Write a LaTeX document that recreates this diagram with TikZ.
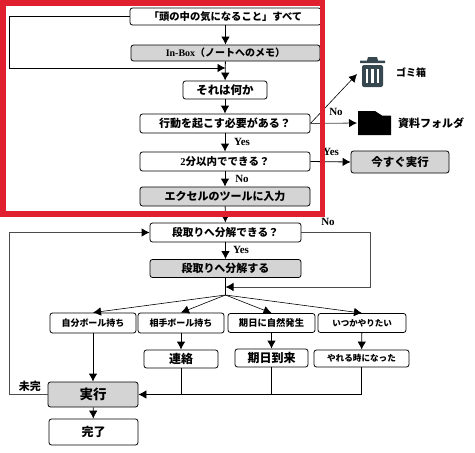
\documentclass[tikz,border=0pt]{standalone}
\usepackage{fontspec}
\setmainfont{Liberation Serif}
\newfontfamily\jp{Noto Sans CJK JP}
\usetikzlibrary{arrows.meta}
\definecolor{framered}{RGB}{224,32,46}
\definecolor{trashgray}{RGB}{55,71,79}
\tikzset{
    box/.style={draw, rounded corners=2.5pt, inner sep=0pt, thick, align=center},
    graybox/.style={box, fill=black!17},
    fs/.style={font=\jp\bfseries\fontsize{#1}{#1}\selectfont},
    flow/.style={thick, -{Latex[length=8pt,width=8.5pt,color=black]}},
    plain/.style={thick},
    tag/.style={font=\bfseries\fontsize{11}{12}\selectfont, inner sep=0pt}
}
\begin{document}
\begin{tikzpicture}[x=1pt,y=-1pt]
    \useasboundingbox (0,0) rectangle (475,453);
    % upper part
    \node[box,fs=10.3,minimum width=191pt,minimum height=17pt] (head) at (225.5,16.5) {「頭の中の気になること」すべて};
    \node[graybox,fs=10,minimum width=189pt,minimum height=16pt] (inbox) at (225.5,53) {{\rmfamily In-Box}（ノートへのメモ）};
    \node[box,fs=11.5,minimum width=84pt,minimum height=18pt] (what) at (225,90) {それは何か};
    \node[box,fs=11,minimum width=170pt,minimum height=19pt] (action) at (225,123.5) {行動を起こす必要がある？};
    \node[box,fs=10.5,minimum width=170pt,minimum height=19pt] (twomin) at (225,161.5) {{\rmfamily 2}分以内でできる？};
    \node[graybox,fs=11,minimum width=170pt,minimum height=19pt] (excel) at (225,196.5) {エクセルのツールに入力};
    % right side
    \node[graybox,fs=11.5,minimum width=98pt,minimum height=22pt] (now) at (400,162) {今すぐ実行};
    \node[fs=10,inner sep=0pt] (trashlabel) at (411,73) {ゴミ箱};
    \node[fs=11,inner sep=0pt] (folderlabel) at (431,123) {資料フォルダ};
    \coordinate (trash) at (357,74);
    \coordinate (folder) at (357,123);
    % trash can
    \fill[trashgray] (367,60.5) -- (368,57) -- (377,57) -- (378,60.5) -- (385,60.5) -- (385,63) -- (360,63) -- (360,60.5) -- cycle;
    \fill[trashgray, rounded corners=2pt] (362,65) -- (383,65) -- (383,87) -- (362,87) -- cycle;
    \foreach \slotx in {367,372.5,378}
        \fill[white] (\slotx-1.2,69) rectangle (\slotx+1.2,83);
    % folder
    \fill[black] (358,111) -- (375,111) -- (382,115.5) -- (391,115.5) -- (391,135) -- (358,135) -- cycle;
    % lower part
    \node[box,fs=10.7,minimum width=151pt,minimum height=19pt] (split) at (225.5,232.5) {段取りへ分解できる？};
    \node[graybox,fs=11,minimum width=151pt,minimum height=18pt] (splitdo) at (225.5,268.5) {段取りへ分解する};
    \coordinate (fork) at (225.5,295);
    \node[box,fs=9,minimum width=86pt,minimum height=20pt] (own) at (93,323) {自分ボール持ち};
    \node[box,fs=9,minimum width=86pt,minimum height=20pt] (other) at (181,323) {相手ボール持ち};
    \node[box,fs=9.3,minimum width=87pt,minimum height=19pt] (natural) at (271.5,323) {期日に自然発生};
    \node[box,fs=8.5,minimum width=88pt,minimum height=19pt] (someday) at (362,323) {いつかやりたい};
    \node[box,fs=12,minimum width=74pt,minimum height=18pt] (contact) at (181,359) {連絡};
    \node[box,fs=12,minimum width=73pt,minimum height=18pt] (due) at (271.5,358) {期日到来};
    \node[box,fs=8.6,minimum width=95pt,minimum height=17pt] (ready) at (361.5,358.5) {やれる時になった};
    \node[graybox,fs=13.5,minimum width=90pt,minimum height=25pt] (run) at (93,394.5) {実行};
    \node[box,fs=12,minimum width=89pt,minimum height=26pt] (done) at (93.5,432) {完了};
    % helper points
    \coordinate (loopa) at (9.5,16.5);
    \coordinate (loopb) at (9.5,68);
    \coordinate (loopc) at (225.5,68);
    \coordinate (noa) at (370,232.5);
    \coordinate (nob) at (370,287);
    \coordinate (noc) at (225.5,287);
    \coordinate (backa) at (9.5,394.5);
    \coordinate (backb) at (9.5,232.5);
    \coordinate (bus) at (181,394.5);
    \coordinate (busb) at (271.5,394.5);
    \coordinate (busc) at (361.5,394.5);
    % connectors
    \draw[flow] (head) -- (inbox);
    \draw[flow] (inbox) -- (what);
    \draw[flow] (what) -- (action);
    \draw[flow] (action) -- (twomin);
    \draw[flow] (twomin) -- (excel);
    \draw[flow] (excel) -- (split);
    \draw[flow] (split) -- (splitdo);
    \draw[flow] (head.west) -- (loopa) -- (loopb) -- (loopc);
    \draw[flow,semithick] (action.east) -- (trash);
    \draw[flow,draw=black!70] (action.east) -- (folder);
    \draw[flow] (twomin.east) -- (now.west);
    \draw[flow,draw=black!70] (split.east) -- (noa) -- (nob) -- (noc);
    \draw[plain] (splitdo) -- (fork);
    \draw[flow,semithick] (fork) -- (own.north);
    \draw[flow,semithick] (fork) -- (other.north);
    \draw[flow,semithick] (fork) -- (natural.north);
    \draw[flow,semithick] (fork) -- (someday.north);
    \draw[flow] (own) -- (run);
    \draw[flow] (other) -- (contact);
    \draw[flow] (natural) -- (due);
    \draw[flow] (someday) -- (ready);
    \draw[flow] (run) -- (done);
    \draw[plain] (contact) -- (bus);
    \draw[plain] (due) -- (busb);
    \draw[flow] (ready) -- (busc) -- (run.east);
    \draw[flow,draw=black!70] (run.west) -- (backa) -- (backb) -- (split.west);
    % labels
    \node[tag] (yesa) at (242,142) {Yes};
    \node[tag] (noa1) at (242,179) {No};
    \node[tag] (nob1) at (336,112) {No};
    \node[tag] (yesb) at (331,152) {Yes};
    \node[tag] (noc1) at (328,222) {No};
    \node[tag] (yesc) at (241,250) {Yes};
    \node[fs=11,inner sep=0pt] (unfinished) at (30,386) {未完};
    % red frame
    \draw[line width=5.5pt,draw=framered] (3,3) rectangle (322.5,214);
\end{tikzpicture}
\end{document}
